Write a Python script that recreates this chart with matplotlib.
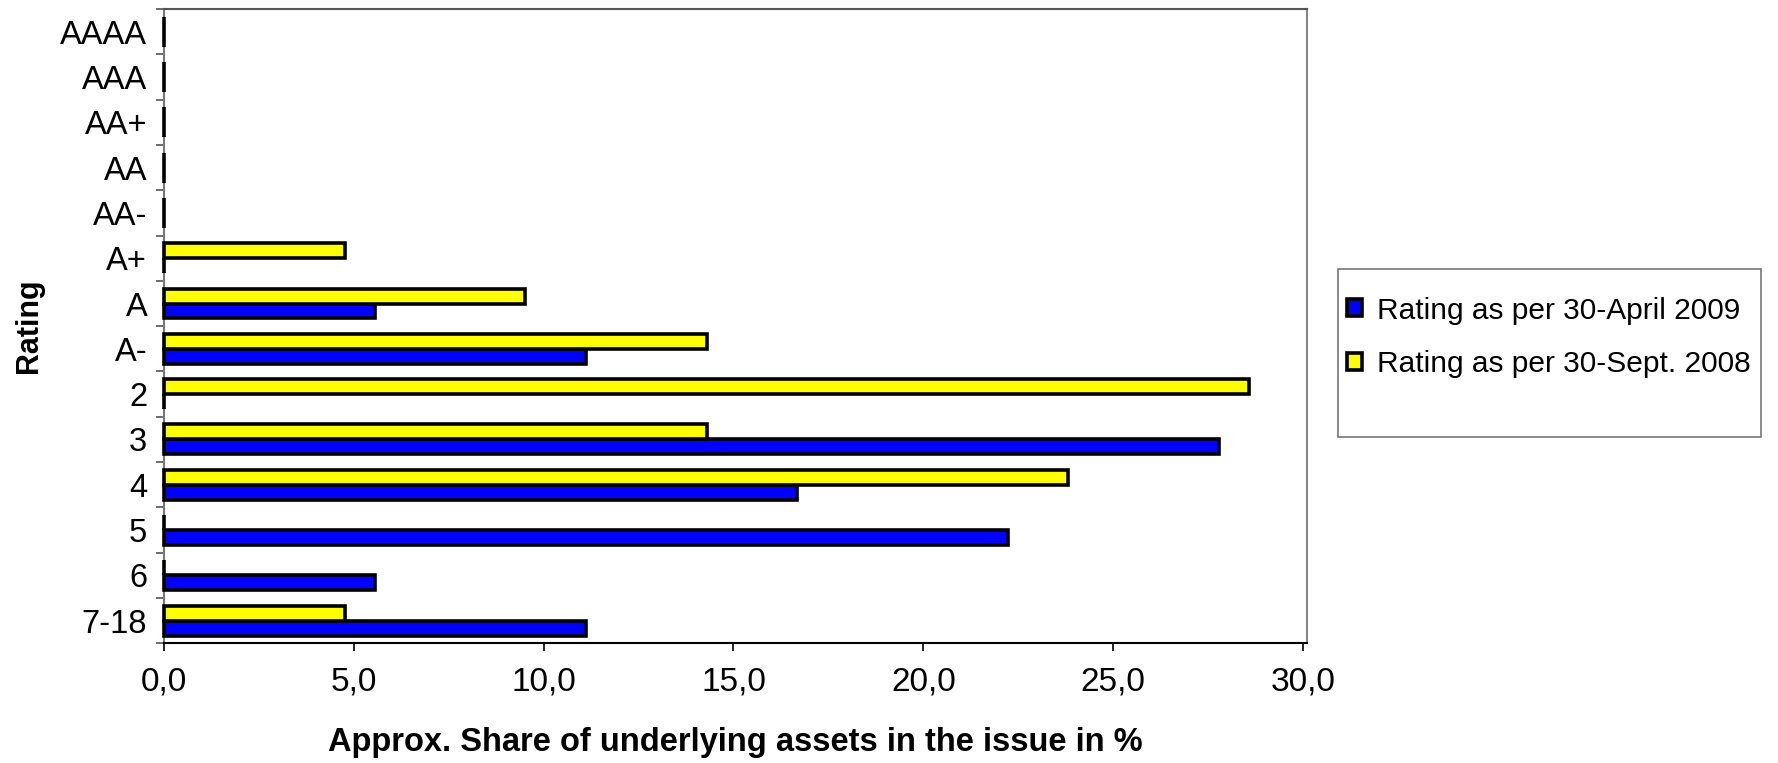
import numpy as np
import matplotlib
matplotlib.use("Agg")
import matplotlib.pyplot as plt
from matplotlib.ticker import FuncFormatter
from matplotlib.patches import Rectangle

ratings = ["AAAA", "AAA", "AA+", "AA", "AA-", "A+", "A", "A-", "2", "3", "4", "5", "6", "7-18"]
apr_2009 = [0, 0, 0, 0, 0, 0, 5.56, 11.11, 0, 27.78, 16.67, 22.22, 5.56, 11.11]
sep_2008 = [0, 0, 0, 0, 0, 4.76, 9.52, 14.29, 28.57, 14.29, 23.81, 0, 0, 4.76]
x_ticks = [0, 5, 10, 15, 20, 25, 30]

plt.rcParams["font.family"] = ["Liberation Sans", "DejaVu Sans"]

fig = plt.figure(figsize=(17.78, 7.63), dpi=100)
ax = fig.add_axes([0.0922, 0.157, 0.6428, 0.831])

pos = np.arange(len(ratings))
h = 0.33
ax.barh(pos + h / 2, apr_2009, height=h, color="#0000ff", edgecolor="black",
        linewidth=2.6, label="Rating as per 30-April 2009", clip_on=False, zorder=3)
ax.barh(pos - h / 2, sep_2008, height=h, color="#ffff00", edgecolor="black",
        linewidth=2.6, label="Rating as per 30-Sept. 2008", clip_on=False, zorder=3)

ax.set_ylim(len(ratings) - 0.5, -0.5)
ax.set_xlim(0, 30.1)

ax.set_yticks(pos)
ax.set_yticklabels(ratings, fontsize=23.5)
ax.set_yticks(np.arange(len(ratings) + 1) - 0.5, minor=True)
ax.tick_params(axis="y", which="major", length=0, pad=12)
ax.tick_params(axis="y", which="minor", length=6, width=1.2, color="#555555")

ax.set_xticks(x_ticks)
ax.xaxis.set_major_formatter(FuncFormatter(lambda v, p: f"{v:.1f}".replace(".", ",")))
ax.tick_params(axis="x", labelsize=24, length=6, width=1.2, pad=11)

ax.spines["top"].set_color("#555555")
ax.spines["right"].set_color("#888888")
ax.spines["left"].set_color("#777777")
for s in ["top", "right", "left", "bottom"]:
    ax.spines[s].set_linewidth(1.5)

ax.set_xlabel("Approx. Share of underlying assets in the issue in %", fontsize=23.5,
              fontweight="bold", labelpad=21)
ax.set_ylabel("Rating", fontsize=22, fontweight="bold", labelpad=12)

leg = fig.legend(loc="upper left", bbox_to_anchor=(0.7576, 0.6114), fontsize=21.5,
                 frameon=False, labelspacing=0.85, handlelength=0.5, handleheight=0.5,
                 handletextpad=0.5, borderpad=0, borderaxespad=0)

# legend frame drawn separately (more room below the entries, as in the original)
fig.patches.append(Rectangle((0.7525, 0.427), 0.238, 0.2204, transform=fig.transFigure,
                             fill=False, edgecolor="#777777", linewidth=1.2))

fig.savefig("out.png", dpi=100)
